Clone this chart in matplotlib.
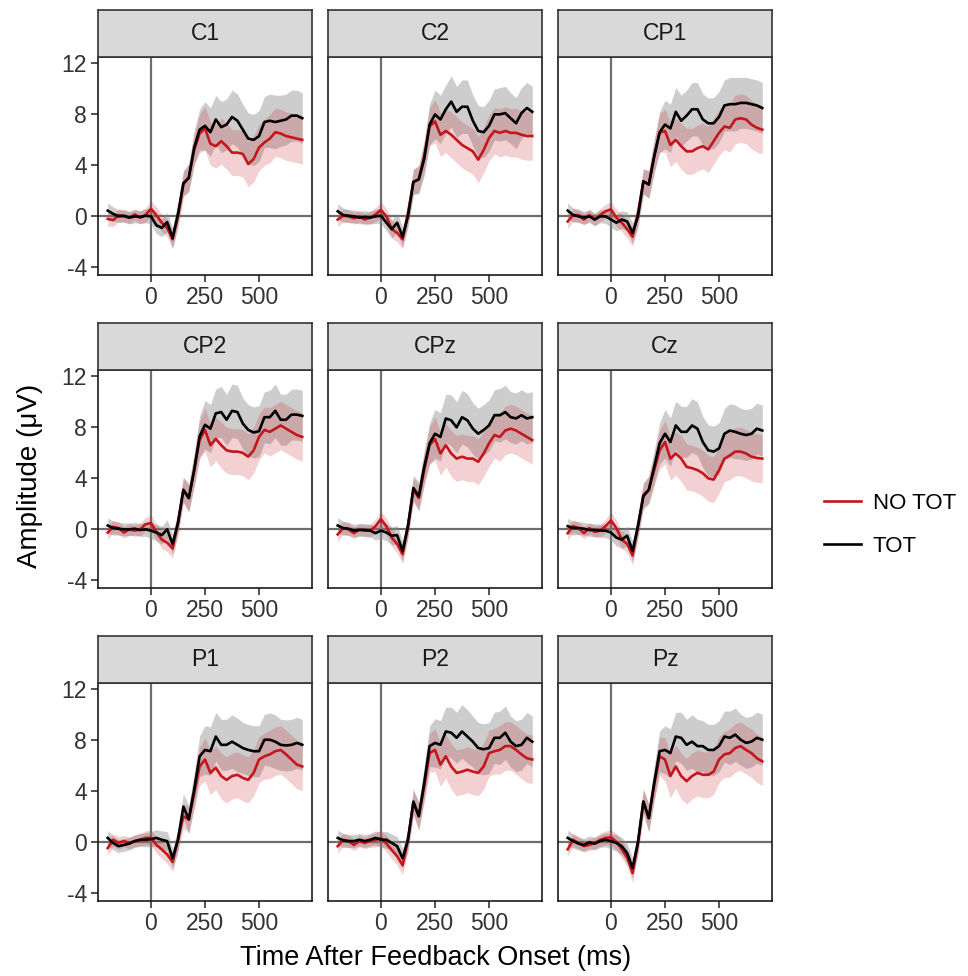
import numpy as np
import matplotlib
matplotlib.use("Agg")
import matplotlib.pyplot as plt
from matplotlib.lines import Line2D

plt.rcParams['font.family'] = ['Liberation Sans', 'DejaVu Sans']
plt.rcParams['axes.unicode_minus'] = False

# time axis (ms)
time_ms = list(range(-200, 701, 25))

electrodes = ["C1", "C2", "CP1", "CP2", "CPz", "Cz", "P1", "P2", "Pz"]

# grand-average amplitudes (uV), TOT condition
tot = {
    "C1": [0.45, 0.2, 0.0, 0.05, -0.1, 0.0, -0.05, 0.05, 0.0, -0.7, -0.9, -0.45, -1.7, 0.2, 2.6, 3.0, 5.4,
           6.8, 7.1, 6.6, 7.6, 7.0, 7.2, 7.8, 7.5, 6.8, 6.1, 6.0, 6.3, 7.4, 7.5, 7.4, 7.5, 7.6, 7.9, 7.9, 7.7],
    "C2": [0.4, 0.1, 0.05, 0.0, -0.1, -0.05, -0.1, 0.0, 0.05, -0.5, -1.0, -0.5, -1.6, 0.0, 2.7, 2.9, 4.5,
           7.2, 8.0, 7.6, 8.4, 9.0, 8.2, 8.6, 8.6, 7.5, 6.7, 6.6, 7.1, 8.0, 8.0, 8.1, 7.7, 7.3, 8.1, 8.5, 8.2],
    "CP1": [0.45, 0.1, 0.0, -0.1, 0.0, -0.25, 0.0, 0.0, -0.25, -0.5, -0.25, -0.4, -1.3, 0.0, 2.75, 2.5, 4.7,
            6.6, 7.2, 6.9, 8.2, 7.5, 7.9, 8.4, 8.4, 7.6, 7.3, 7.3, 7.8, 8.7, 8.8, 8.8, 8.9, 8.9, 8.8, 8.7, 8.5],
    "CP2": [0.3, 0.1, 0.05, 0.0, 0.0, 0.05, -0.05, 0.0, -0.1, -0.25, -0.45, 0.0, -1.15, 0.5, 3.1, 2.45, 4.65,
            7.3, 8.2, 7.9, 9.1, 9.2, 8.6, 9.3, 9.2, 8.3, 7.8, 7.6, 7.7, 8.8, 8.8, 9.3, 8.6, 8.6, 9.0, 9.0, 8.9],
    "CPz": [0.3, 0.1, 0.05, -0.1, -0.05, -0.05, -0.1, -0.3, -0.1, -0.25, -0.5, -0.45, -1.7, 0.25, 3.25, 2.6, 4.9,
            6.75, 7.5, 7.25, 8.7, 8.55, 8.0, 8.8, 8.55, 7.9, 7.5, 7.8, 8.15, 8.95, 8.95, 9.2, 8.8, 8.7, 8.95, 8.7, 8.8],
    "Cz": [0.25, 0.1, 0.1, 0.05, -0.05, -0.05, -0.1, -0.1, -0.25, -0.65, -0.8, -0.5, -1.7, 0.25, 2.6, 3.1, 4.9,
           6.75, 7.5, 6.85, 8.15, 7.65, 7.65, 8.15, 7.9, 6.85, 6.2, 6.1, 6.35, 7.5, 7.75, 7.65, 7.5, 7.4, 7.5, 7.9, 7.75],
    "P1": [0.35, -0.05, -0.3, -0.2, -0.1, 0.1, 0.2, 0.2, 0.25, 0.35, 0.2, 0.1, -1.25, 0.2, 2.8, 1.8, 4.15,
           6.75, 7.25, 7.15, 8.3, 7.65, 7.65, 7.9, 7.65, 7.4, 7.25, 7.15, 7.15, 8.05, 8.05, 7.9, 7.65, 7.6, 7.65, 7.8, 7.65],
    "P2": [0.35, 0.15, 0.1, 0.1, 0.2, 0.1, 0.2, 0.35, 0.2, 0.2, -0.05, -0.3, -1.25, 0.2, 3.2, 2.05, 4.65,
           7.55, 7.8, 7.65, 8.7, 8.6, 8.2, 8.7, 8.3, 7.9, 7.4, 7.3, 7.4, 8.2, 8.2, 8.6, 7.9, 7.55, 7.65, 8.2, 7.9],
    "Pz": [0.35, 0.1, -0.1, -0.2, 0.0, -0.1, 0.1, 0.2, 0.1, -0.05, -0.3, -0.85, -2.0, 0.0, 3.2, 1.9, 4.65,
           7.15, 7.25, 7.0, 8.3, 8.2, 7.65, 7.9, 7.55, 7.55, 7.25, 7.25, 7.55, 8.3, 8.2, 8.45, 8.05, 7.8, 7.9, 8.2, 8.05],
}

# NO TOT condition
no_tot = {
    "C1": [-0.2, -0.3, 0.1, 0.0, -0.1, 0.15, -0.1, 0.1, 0.6, 0.1, -0.5, -0.9, -1.8, 0.0, 2.5, 3.1, 5.2,
           6.5, 6.9, 5.7, 5.5, 5.9, 5.5, 5.0, 5.0, 4.9, 4.1, 4.5, 5.4, 5.8, 6.1, 6.6, 6.5, 6.3, 6.2, 6.1, 6.0],
    "C2": [-0.25, 0.05, 0.0, -0.15, 0.0, -0.25, -0.1, 0.15, 0.5, 0.0, -1.0, -1.3, -1.8, 0.25, 2.7, 2.9, 4.7,
           7.05, 7.45, 6.4, 6.7, 6.4, 6.0, 5.6, 5.35, 5.1, 4.45, 5.2, 6.15, 6.7, 6.55, 6.7, 6.55, 6.55, 6.4, 6.3, 6.3],
    "CP1": [-0.4, 0.1, 0.1, -0.25, 0.1, -0.25, 0.1, 0.4, 0.55, -0.1, -0.5, -1.0, -1.6, 0.25, 2.75, 2.5, 4.7,
            6.55, 6.7, 5.6, 6.0, 5.5, 5.1, 5.1, 5.35, 5.5, 5.25, 5.9, 6.55, 7.05, 6.95, 7.6, 7.7, 7.6, 7.2, 6.95, 6.8],
    "CP2": [-0.25, 0.2, 0.1, -0.25, 0.0, -0.1, 0.0, 0.4, 0.5, -0.2, -0.8, -1.05, -1.5, 0.5, 3.1, 2.45, 4.65,
            7.0, 7.8, 6.6, 7.1, 6.6, 6.2, 6.1, 6.1, 6.0, 5.7, 6.2, 7.25, 7.8, 7.65, 7.9, 8.15, 7.9, 7.65, 7.4, 7.25],
    "CPz": [-0.4, 0.1, 0.0, -0.3, 0.0, -0.1, -0.1, 0.25, 0.8, 0.25, -0.65, -1.15, -1.95, 0.25, 3.1, 2.45, 4.65,
            6.6, 7.1, 5.95, 6.6, 5.95, 5.55, 5.7, 5.55, 5.55, 5.3, 5.95, 6.75, 7.4, 7.25, 7.75, 7.9, 7.75, 7.5, 7.25, 7.0],
    "Cz": [-0.3, 0.25, 0.1, -0.3, 0.1, -0.2, -0.1, 0.25, 0.7, 0.1, -0.8, -1.15, -2.05, 0.25, 2.7, 3.1, 4.65,
           6.2, 6.85, 5.55, 5.95, 5.55, 4.9, 4.8, 4.65, 4.4, 4.0, 3.9, 4.65, 5.55, 5.8, 6.1, 6.1, 5.95, 5.7, 5.6, 5.55],
    "P1": [-0.45, 0.2, -0.05, 0.1, -0.05, 0.1, 0.2, 0.35, 0.35, -0.2, -0.55, -0.95, -1.55, 0.2, 2.05, 1.8, 3.85,
           5.95, 6.5, 5.45, 5.85, 5.2, 4.9, 5.2, 5.3, 5.05, 4.9, 5.45, 6.5, 6.75, 6.9, 7.15, 7.25, 6.9, 6.5, 6.1, 5.95],
    "P2": [-0.3, 0.2, 0.1, -0.2, 0.1, -0.05, 0.1, 0.2, 0.35, -0.1, -0.6, -1.1, -1.8, 0.2, 3.1, 2.05, 4.4,
           7.0, 7.25, 6.1, 6.75, 5.95, 5.45, 5.55, 5.7, 5.55, 5.45, 5.95, 7.0, 7.15, 7.25, 7.55, 7.55, 7.25, 6.9, 6.6, 6.5],
    "Pz": [-0.55, 0.2, -0.05, -0.3, -0.2, -0.05, 0.2, 0.35, 0.4, 0.05, -0.55, -1.2, -2.4, 0.0, 3.2, 1.9, 4.5,
           6.75, 6.5, 5.2, 5.95, 5.2, 4.8, 5.2, 5.45, 5.3, 5.3, 5.55, 6.5, 6.9, 7.0, 7.4, 7.55, 7.25, 7.0, 6.6, 6.35],
}

# ribbon half-widths (SE), per condition
tot_se = [0.6, 0.55, 0.5, 0.5, 0.5, 0.5, 0.5, 0.55, 0.6, 0.65, 0.7, 0.75, 0.8, 0.9, 1.0, 1.1, 1.3,
          1.6, 1.9, 1.9, 1.9, 2.0, 2.0, 2.1, 2.1, 2.0, 2.0, 2.0, 2.0, 2.0, 2.1, 2.1, 2.0, 2.0, 2.0, 2.0, 2.0]
no_tot_se = [0.55, 0.5, 0.5, 0.45, 0.45, 0.45, 0.5, 0.55, 0.6, 0.65, 0.7, 0.7, 0.75, 0.85, 0.95, 1.05, 1.25,
             1.5, 1.7, 1.7, 1.7, 1.8, 1.8, 1.8, 1.8, 1.8, 1.8, 1.8, 1.8, 1.8, 1.9, 1.9, 1.9, 1.9, 1.9, 1.9, 1.9]

red = "#C4161C"
W, H = 968, 976
fig = plt.figure(figsize=(W / 100, H / 100), dpi=100)

col_left = [98, 328, 558]
row_top = [57, 370, 683]
pw, ph, sh = 214, 218, 47

t = np.array(time_ms)
for i, el in enumerate(electrodes):
    r, c = divmod(i, 3)
    x0, y0 = col_left[c], row_top[r]
    ax = fig.add_axes([x0 / W, 1 - (y0 + ph) / H, pw / W, ph / H])
    sax = fig.add_axes([x0 / W, 1 - y0 / H, pw / W, sh / H])

    a = np.array(tot[el]); b = np.array(no_tot[el])
    se_a = np.array(tot_se); se_b = np.array(no_tot_se)
    ax.axhline(0, color="#6e6e6e", lw=1.6, zorder=1)
    ax.axvline(0, color="#6e6e6e", lw=1.6, zorder=1)
    ax.fill_between(t, a - se_a, a + se_a, color="#8a8a8a", alpha=0.42, lw=0, zorder=2)
    ax.fill_between(t, b - se_b, b + se_b, color=red, alpha=0.2, lw=0, zorder=3)
    ax.plot(t, b, color=red, lw=1.9, zorder=4)
    ax.plot(t, a, color="black", lw=1.9, zorder=5)

    ax.set_xlim(-245, 745)
    ax.set_ylim(-4.6, 12.5)
    ax.set_xticks([0, 250, 500])
    ax.set_yticks([-4, 0, 4, 8, 12])
    ax.tick_params(labelsize=16.5, colors="#333333", length=5, width=1.2, pad=3)
    if c != 0:
        ax.tick_params(axis="y", left=False, labelleft=False)
    for s in ax.spines.values():
        s.set_linewidth(1.2)
        s.set_color("#1a1a1a")

    sax.set_facecolor("#D9D9D9")
    sax.set_xticks([]); sax.set_yticks([])
    for s in sax.spines.values():
        s.set_linewidth(1.2)
        s.set_color("#333333")
    sax.text(0.5, 0.5, el, ha="center", va="center", fontsize=16.5, color="#1a1a1a",
             transform=sax.transAxes)

fig.text(30 / W, 1 - 476 / H, "Amplitude (\u03bcV)", rotation=90, ha="center", va="center", fontsize=20)
fig.text(436 / W, 1 - 958 / H, "Time After Feedback Onset (ms)", ha="center", va="center", fontsize=19.5)

handles = [Line2D([], [], color=red, lw=1.9), Line2D([], [], color="black", lw=1.9)]
fig.legend(handles, ["NO TOT", "TOT"], loc="center left", bbox_to_anchor=(824 / W, 1 - 525 / H),
           frameon=False, fontsize=16, borderpad=0, borderaxespad=0, handlelength=1.65,
           handletextpad=0.55, labelspacing=1.0)

fig.savefig("out.png", dpi=100)
